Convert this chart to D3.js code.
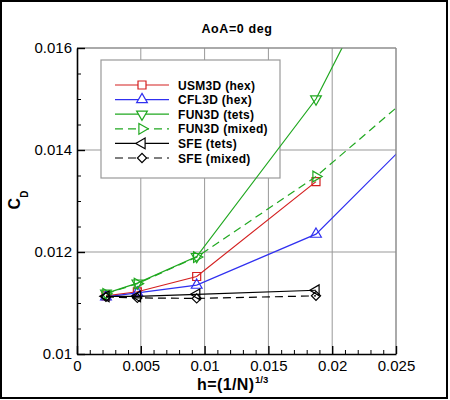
<!DOCTYPE html>
<html>
<head>
<meta charset="utf-8">
<script src="https://cdn.jsdelivr.net/npm/d3@7"></script>
<style>
  body { margin: 0; background: #fff; }
  svg { display: block; font-family: "Liberation Sans", Arial, Helvetica, sans-serif; }
</style>
</head>
<body>
<div id="chart"></div>
<script>
// grid spacing h for each mesh level (last value is an off-chart coarse level)
const hValues = [0.00227, 0.00473, 0.00938, 0.01873, 0.0375];

const usm3dHex   = [0.01114, 0.01122, 0.01152, 0.01338];
const cfl3dHex   = [0.01112, 0.01120, 0.01135, 0.01235, 0.01704];
const fun3dTets  = [0.01119, 0.01139, 0.01191, 0.01500, 0.02420];
const fun3dMixed = [0.01118, 0.01138, 0.01190, 0.01348, 0.01750];
const sfeTets    = [0.01113, 0.01113, 0.01117, 0.01125];
const sfeMixed   = [0.01112, 0.01110, 0.01109, 0.01114];

const seriesNames = ["USM3D (hex)", "CFL3D (hex)", "FUN3D (tets)", "FUN3D (mixed)", "SFE (tets)", "SFE (mixed)"];

const xMajorTicks = [0, 0.005, 0.01, 0.015, 0.02, 0.025];
const yMajorTicks = [0.01, 0.012, 0.014, 0.016];

const W = 450, H = 400;
const pLeft = 77, pRight = 396, pTop = 48, pBottom = 354;

const svg = d3.select('#chart').append('svg')
    .attr('width', W)
    .attr('height', H);

const x = d3.scaleLinear().domain([0, 0.025]).range([pLeft, pRight]);
const y = d3.scaleLinear().domain([0.01, 0.016]).range([pBottom, pTop]);

// styles for each series: colour, marker, dashed
const styles = [
    { color: '#d42020', sym: d3.symbolSquare, size: 64, rot: 0, dash: null },
    { color: '#3030f0', sym: d3.symbolTriangle, size: 50, rot: 0, dash: null },
    { color: '#20a820', sym: d3.symbolTriangle, size: 50, rot: 180, dash: null },
    { color: '#20a820', sym: d3.symbolTriangle, size: 50, rot: 90, dash: '8,5' },
    { color: '#000000', sym: d3.symbolTriangle, size: 50, rot: -90, dash: null },
    { color: '#000000', sym: d3.symbolSquare, size: 42, rot: 45, dash: '8,5' }
];
const allSeries = [usm3dHex, cfl3dHex, fun3dTets, fun3dMixed, sfeTets, sfeMixed];

// outer frame
svg.append('rect')
    .attr('x', 1).attr('y', 1)
    .attr('width', 446).attr('height', 397)
    .attr('fill', 'none')
    .attr('stroke', '#000')
    .attr('stroke-width', 2);

// grid lines
const grid = svg.append('g').attr('stroke', '#999').attr('stroke-width', 1);
grid.selectAll('.vg')
    .data(xMajorTicks.slice(1))
    .enter().append('line')
    .attr('x1', d => x(d)).attr('x2', d => x(d))
    .attr('y1', pTop).attr('y2', pBottom);
grid.selectAll('.hg')
    .data(yMajorTicks.slice(1))
    .enter().append('line')
    .attr('x1', pLeft).attr('x2', pRight)
    .attr('y1', d => y(d)).attr('y2', d => y(d));

// clip for data
svg.append('clipPath').attr('id', 'plotClip')
    .append('rect')
    .attr('x', pLeft).attr('y', pTop)
    .attr('width', pRight - pLeft).attr('height', pBottom - pTop);

// legend box
const lgX = 101, lgY = 60, lgW = 179, lgH = 118;
const legend = svg.append('g');
legend.append('rect')
    .attr('x', lgX).attr('y', lgY)
    .attr('width', lgW).attr('height', lgH)
    .attr('fill', '#fff')
    .attr('stroke', '#999')
    .attr('stroke-width', 1.2);

// data lines + markers
const plot = svg.append('g').attr('clip-path', 'url(#plotClip)');
const line = d3.line().x(d => x(d[0])).y(d => y(d[1]));

allSeries.forEach((vals, i) => {
    const st = styles[i];
    const pts = vals.map((v, j) => [hValues[j], v]);
    plot.append('path')
        .attr('d', line(pts))
        .attr('fill', 'none')
        .attr('stroke', st.color)
        .attr('stroke-width', 1.2)
        .attr('stroke-dasharray', st.dash);
    plot.selectAll(null)
        .data(pts)
        .enter().append('path')
        .attr('d', d3.symbol().type(st.sym).size(st.size))
        .attr('transform', d => `translate(${x(d[0])},${y(d[1])}) rotate(${st.rot})`)
        .attr('fill', 'none')
        .attr('stroke', st.color)
        .attr('stroke-width', 1.2);
});

// legend entries
const rowY0 = 85, rowStep = 14.6;
seriesNames.forEach((name, i) => {
    const st = styles[i];
    const yy = rowY0 + i * rowStep;
    legend.append('line')
        .attr('x1', 115).attr('x2', 169)
        .attr('y1', yy).attr('y2', yy)
        .attr('stroke', st.color)
        .attr('stroke-width', 1.2)
        .attr('stroke-dasharray', st.dash);
    legend.append('path')
        .attr('d', d3.symbol().type(st.sym).size(st.size))
        .attr('transform', `translate(142,${yy}) rotate(${st.rot})`)
        .attr('fill', '#fff')
        .attr('stroke', st.color)
        .attr('stroke-width', 1.2);
    legend.append('text')
        .attr('x', 178).attr('y', yy + 4.5)
        .attr('font-size', 12)
        .attr('font-weight', 'bold')
        .attr('letter-spacing', 0.3)
        .text(name);
});

// frame top and right (grey)
svg.append('path')
    .attr('d', `M${pLeft},${pTop}H${pRight}V${pBottom}`)
    .attr('fill', 'none')
    .attr('stroke', '#888')
    .attr('stroke-width', 1);

// axes
const fmt = d => d === 0 ? '0' : String(+d.toFixed(3));

const xAxis = svg.append('g')
    .attr('transform', `translate(0,${pBottom})`)
    .call(d3.axisBottom(x).tickValues(xMajorTicks).tickSizeInner(-8).tickSizeOuter(0).tickPadding(6).tickFormat(fmt));
svg.append('g')
    .attr('transform', `translate(0,${pBottom})`)
    .call(d3.axisBottom(x).tickValues(d3.range(1, 25).filter(k => k % 5 !== 0).map(k => k * 0.001)).tickSize(-4).tickFormat(''))
    .call(g => g.select('.domain').remove());

const yAxis = svg.append('g')
    .attr('transform', `translate(${pLeft},0)`)
    .call(d3.axisLeft(y).tickValues(yMajorTicks).tickSizeInner(-8).tickSizeOuter(0).tickPadding(5).tickFormat(fmt));
svg.append('g')
    .attr('transform', `translate(${pLeft},0)`)
    .call(d3.axisLeft(y).tickValues([0.0105, 0.011, 0.0115, 0.0125, 0.013, 0.0135, 0.0145, 0.015, 0.0155]).tickSize(-4).tickFormat(''))
    .call(g => g.select('.domain').remove());

[xAxis, yAxis].forEach(g => {
    g.select('.domain').attr('stroke', '#000').attr('stroke-width', 1.6);
    g.selectAll('.tick line').attr('stroke', '#000').attr('stroke-width', 1.4);
    g.selectAll('.tick text')
        .attr('font-size', 15)
        .attr('font-family', '"Liberation Sans", Arial, sans-serif')
        .attr('fill', '#000');
});
svg.selectAll('.tick line').attr('stroke', '#000');

// title
svg.append('text')
    .attr('x', 237).attr('y', 32.5)
    .attr('text-anchor', 'middle')
    .attr('font-size', 12.5)
    .attr('font-weight', 'bold')
    .attr('letter-spacing', 0.6)
    .text('AoA=0 deg');

// x label, superscript placed as its own text right after the main part
const xlMain = svg.append('text')
    .attr('x', 197).attr('y', 389.5)
    .attr('font-weight', 'bold')
    .attr('font-size', 16)
    .attr('letter-spacing', 0.4)
    .text('h=(1/N)');
const xlLen = xlMain.node().getComputedTextLength();
svg.append('text')
    .attr('x', 197 + xlLen + 0.5).attr('y', 382.5)
    .attr('font-weight', 'bold')
    .attr('font-size', 9.5)
    .text('1/3');

// y label
const yl = svg.append('text')
    .attr('transform', 'translate(20,200) rotate(-90)')
    .attr('text-anchor', 'middle')
    .attr('font-weight', 'bold')
    .attr('font-size', 16);
yl.append('tspan').text('C');
yl.append('tspan').attr('font-size', 10).attr('dy', 8).text('D');
</script>
</body>
</html>
